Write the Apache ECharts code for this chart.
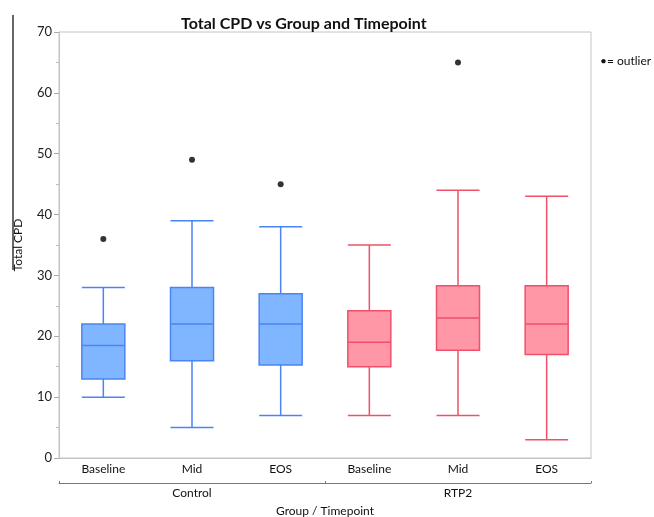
<!DOCTYPE html>
<html>
<head>
<meta charset="utf-8">
<script src="https://cdn.jsdelivr.net/npm/echarts@6/dist/echarts.min.js"></script>
<style>html,body{margin:0;padding:0;background:#fff}#c{width:654px;height:517px}</style>
</head>
<body>
<div id="c"></div>
<script>
const categories = ['Baseline', 'Mid', 'EOS', 'Baseline ', 'Mid ', 'EOS '];
const groups = ['Control', 'RTP2'];
const groupOf = [0, 0, 0, 1, 1, 1];
// [min, Q1, median, Q3, max]
const boxValues = [
  [10, 13, 18.5, 22, 28],
  [5, 16, 22, 28, 39],
  [7, 15.3, 22, 27, 38],
  [7, 15, 19, 24.2, 35],
  [7, 17.7, 23, 28.3, 44],
  [3, 17, 22, 28.3, 43]
];
// [category index, value]
const outliers = [[0, 36], [1, 49], [2, 45], [4, 65]];
const yTicks = [0, 10, 20, 30, 40, 50, 60, 70];

const fills = ['#80b6ff', '#ff97a6'];
const borders = ['#4a84f5', '#f0506a'];
const FONT = 'Lato';

const chart = echarts.init(document.getElementById('c'), null, {renderer: 'canvas'});
chart.setOption({
  animation: false,
  backgroundColor: '#fff',
  textStyle: {fontFamily: FONT},
  title: {
    text: 'Total CPD vs Group and Timepoint',
    left: 176, top: 11,
    textStyle: {fontFamily: FONT, fontSize: 16, fontWeight: 'bold', color: '#111'}
  },
  grid: {left: 59, right: 63, top: 32, bottom: 59, show: true, borderColor: '#c4c4c4', borderWidth: 1,
         containLabel: false, outerBoundsMode: 'none'},
  xAxis: [
    {
      type: 'category', data: categories, boundaryGap: true, position: 'bottom',
      axisLine: {show: true, lineStyle: {color: '#c4c4c4'}},
      axisTick: {show: false},
      axisLabel: {fontFamily: FONT, fontSize: 12, color: '#111', margin: 5, formatter: v => v.trim()}
    },
    {
      type: 'category', data: groups, boundaryGap: true, position: 'bottom', offset: 25,
      axisLine: {show: true, lineStyle: {color: '#777'}},
      axisTick: {show: true, inside: true, length: 2, lineStyle: {color: '#777'}},
      axisLabel: {fontFamily: FONT, fontSize: 12, color: '#111', margin: 4},
      name: 'Group / Timepoint', nameLocation: 'middle', nameGap: 22,
      nameTextStyle: {fontFamily: FONT, fontSize: 12, color: '#111'}
    }
  ],
  yAxis: {
    type: 'value', min: yTicks[0], max: yTicks[yTicks.length - 1], interval: 10,
    name: 'Total CPD', nameLocation: 'middle', nameGap: 35, nameRotate: 90,
    nameTextStyle: {fontFamily: FONT, fontSize: 12, color: '#111'},
    axisLine: {show: true, lineStyle: {color: '#c4c4c4'}},
    axisTick: {show: true, length: 5, lineStyle: {color: '#aaa'}},
    minorTick: {show: true, splitNumber: 2, length: 3, lineStyle: {color: '#bbb'}},
    splitLine: {show: false},
    axisLabel: {fontFamily: FONT, fontSize: 13, color: '#222', margin: 7}
  },
  series: [
    {
      type: 'boxplot', xAxisIndex: 0,
      boxWidth: [43, 43],
      data: boxValues.map((v, i) => ({
        value: v,
        itemStyle: {color: fills[groupOf[i]], borderColor: borders[groupOf[i]], borderWidth: 1.5}
      }))
    },
    {
      type: 'scatter', xAxisIndex: 0,
      symbol: 'circle', symbolSize: 6,
      itemStyle: {color: '#000'},
      data: outliers
    }
  ],
  graphic: [
    {type: 'line', shape: {x1: 13, y1: 15, x2: 13, y2: 270}, style: {stroke: '#000', lineWidth: 1.2}},
    {type: 'text', left: 600, top: 55, style: {text: '\u2022= outlier', fontFamily: FONT, fontSize: 12, fill: '#111'}}
  ]
});
</script>
</body>
</html>
